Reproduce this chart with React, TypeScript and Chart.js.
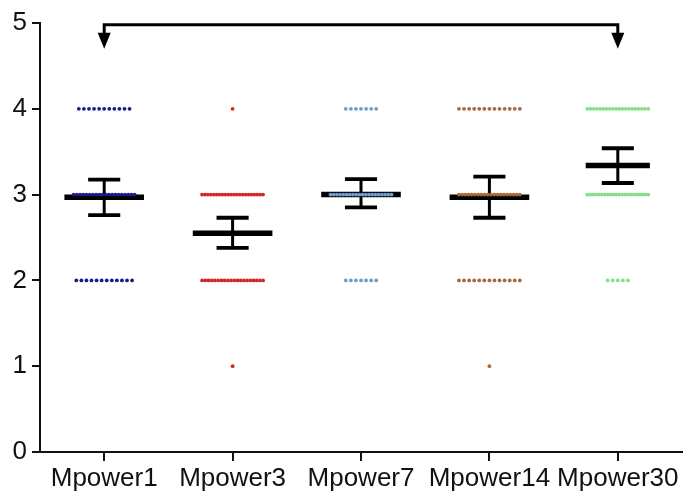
import { useEffect, useRef } from "react";
import { Chart, registerables } from "chart.js";

Chart.register(...registerables);

// Groups along the x axis
const groups = ["Mpower1", "Mpower3", "Mpower7", "Mpower14", "Mpower30"];

// Score levels and the number of subjects at each level (same order as scoreLevels)
const scoreLevels = [4, 3, 2, 1];
const mpower1Counts = [11, 20, 12, 0];
const mpower3Counts = [1, 22, 20, 1];
const mpower7Counts = [7, 20, 7, 0];
const mpower14Counts = [13, 20, 13, 1];
const mpower30Counts = [20, 22, 5, 0];

// Group mean and the error-bar limits
const groupMeans = [2.97, 2.55, 3.0, 2.97, 3.34];
const errorLow = [2.76, 2.38, 2.85, 2.73, 3.135];
const errorHigh = [3.175, 2.73, 3.18, 3.21, 3.54];

// Y axis ticks
const yTicks = [0, 1, 2, 3, 4, 5];

// Styling
const dotColors = ["#1b1b8c", "#d42626", "#6d9dd0", "#a8683a", "#84e084"];
const DOT_STEP = 0.0395; // horizontal gap between neighbouring dots (category units)
const DOT_MAX_SPREAD = 0.475; // widest a row of dots may get
const MEAN_HALF_WIDTH = [0.31, 0.31, 0.31, 0.31, 0.25];
const CAP_HALF_WIDTH = 0.125;
const BRACKET_LEVEL = 4.98;
const ARROW_TIP_LEVEL = 4.7;
const FONT = { family: "'Liberation Sans', Arial, sans-serif", size: 26 };

const allCounts = [mpower1Counts, mpower3Counts, mpower7Counts, mpower14Counts, mpower30Counts];

function spreadDots(groupIndex: number, counts: number[]) {
  const pts: { x: number; y: number }[] = [];
  counts.forEach((n, li) => {
    if (n <= 0) return;
    const spread = Math.min((n - 1) * DOT_STEP, DOT_MAX_SPREAD);
    const step = n > 1 ? spread / (n - 1) : 0;
    for (let k = 0; k < n; k++) {
      pts.push({ x: groupIndex - spread / 2 + k * step, y: scoreLevels[li] });
    }
  });
  return pts;
}

const meanErrorPlugin = {
  id: "meanError",
  beforeDatasetsDraw(chart: any) {
    const { ctx, scales } = chart;
    const x = scales.x;
    const y = scales.y;
    ctx.save();
    ctx.strokeStyle = "#000";
    ctx.lineCap = "butt";
    groups.forEach((_, i) => {
      const cx = x.getPixelForValue(i);
      const yMean = y.getPixelForValue(groupMeans[i]);
      const yLo = y.getPixelForValue(errorLow[i]);
      const yHi = y.getPixelForValue(errorHigh[i]);
      const capL = x.getPixelForValue(i - CAP_HALF_WIDTH);
      const capR = x.getPixelForValue(i + CAP_HALF_WIDTH);
      // vertical stem
      ctx.lineWidth = 3;
      ctx.beginPath();
      ctx.moveTo(cx, yLo);
      ctx.lineTo(cx, yHi);
      ctx.stroke();
      // caps
      ctx.lineWidth = 3.8;
      ctx.beginPath();
      ctx.moveTo(capL, yLo);
      ctx.lineTo(capR, yLo);
      ctx.moveTo(capL, yHi);
      ctx.lineTo(capR, yHi);
      ctx.stroke();
      // mean line
      ctx.lineWidth = 5.5;
      ctx.beginPath();
      ctx.moveTo(x.getPixelForValue(i - MEAN_HALF_WIDTH[i]), yMean);
      ctx.lineTo(x.getPixelForValue(i + MEAN_HALF_WIDTH[i]), yMean);
      ctx.stroke();
    });
    ctx.restore();
  },
  afterDraw(chart: any) {
    const { ctx, scales } = chart;
    const x = scales.x;
    const y = scales.y;
    const left = x.getPixelForValue(0);
    const right = x.getPixelForValue(groups.length - 1);
    const top = y.getPixelForValue(BRACKET_LEVEL);
    const tip = y.getPixelForValue(ARROW_TIP_LEVEL);
    const headLen = 16;
    const headHalf = 6.5;
    ctx.save();
    ctx.strokeStyle = "#000";
    ctx.fillStyle = "#000";
    ctx.lineWidth = 3;
    ctx.lineJoin = "miter";
    ctx.beginPath();
    ctx.moveTo(left, tip - headLen + 1);
    ctx.lineTo(left, top);
    ctx.lineTo(right, top);
    ctx.lineTo(right, tip - headLen + 1);
    ctx.stroke();
    [left, right].forEach((px) => {
      ctx.beginPath();
      ctx.moveTo(px - headHalf, tip - headLen);
      ctx.lineTo(px + headHalf, tip - headLen);
      ctx.lineTo(px, tip);
      ctx.closePath();
      ctx.fill();
    });
    ctx.restore();
  },
};

export default function App() {
  const canvasRef = useRef<HTMLCanvasElement | null>(null);

  useEffect(() => {
    document.body.style.margin = "0";
    const canvas = canvasRef.current;
    if (!canvas) return;

    const datasets = groups.map((name, i) => ({
      label: name,
      data: spreadDots(i, allCounts[i]),
      backgroundColor: dotColors[i],
      borderWidth: 0,
      pointRadius: 1.9,
      pointHoverRadius: 1.9,
    }));

    const chart = new Chart(canvas, {
      type: "scatter",
      data: { datasets },
      options: {
        responsive: false,
        animation: false,
        events: [],
        layout: { padding: { top: 23, right: 5, left: 0, bottom: 0 } },
        plugins: {
          legend: { display: false },
          tooltip: { enabled: false },
        },
        scales: {
          x: {
            type: "linear",
            min: -0.5,
            max: groups.length - 0.5,
            afterBuildTicks: (scale: any) => {
              scale.ticks = groups.map((_, i) => ({ value: i }));
            },
            afterFit: (scale: any) => {
              scale.height = 45;
            },
            ticks: {
              callback: (v: any) => groups[Math.round(Number(v))] ?? "",
              font: FONT,
              color: "#111",
              padding: 2,
              maxRotation: 0,
              autoSkip: false,
            },
            grid: {
              drawOnChartArea: false,
              drawTicks: true,
              tickLength: 9,
              color: "#111",
              lineWidth: 2,
            },
            border: { display: true, color: "#111", width: 2 },
          },
          y: {
            type: "linear",
            min: yTicks[0],
            max: yTicks[yTicks.length - 1],
            afterBuildTicks: (scale: any) => {
              scale.ticks = yTicks.map((v) => ({ value: v }));
            },
            afterFit: (scale: any) => {
              scale.width = 40;
            },
            ticks: {
              font: FONT,
              color: "#111",
              padding: 5,
            },
            grid: {
              drawOnChartArea: false,
              drawTicks: true,
              tickLength: 8,
              color: "#111",
              lineWidth: 2,
            },
            border: { display: true, color: "#111", width: 2 },
          },
        },
      },
      plugins: [meanErrorPlugin],
    });

    return () => chart.destroy();
  }, []);

  return (
    <div style={{ width: 687, height: 497, background: "#fff" }}>
      <canvas ref={canvasRef} width={687} height={497} />
    </div>
  );
}
